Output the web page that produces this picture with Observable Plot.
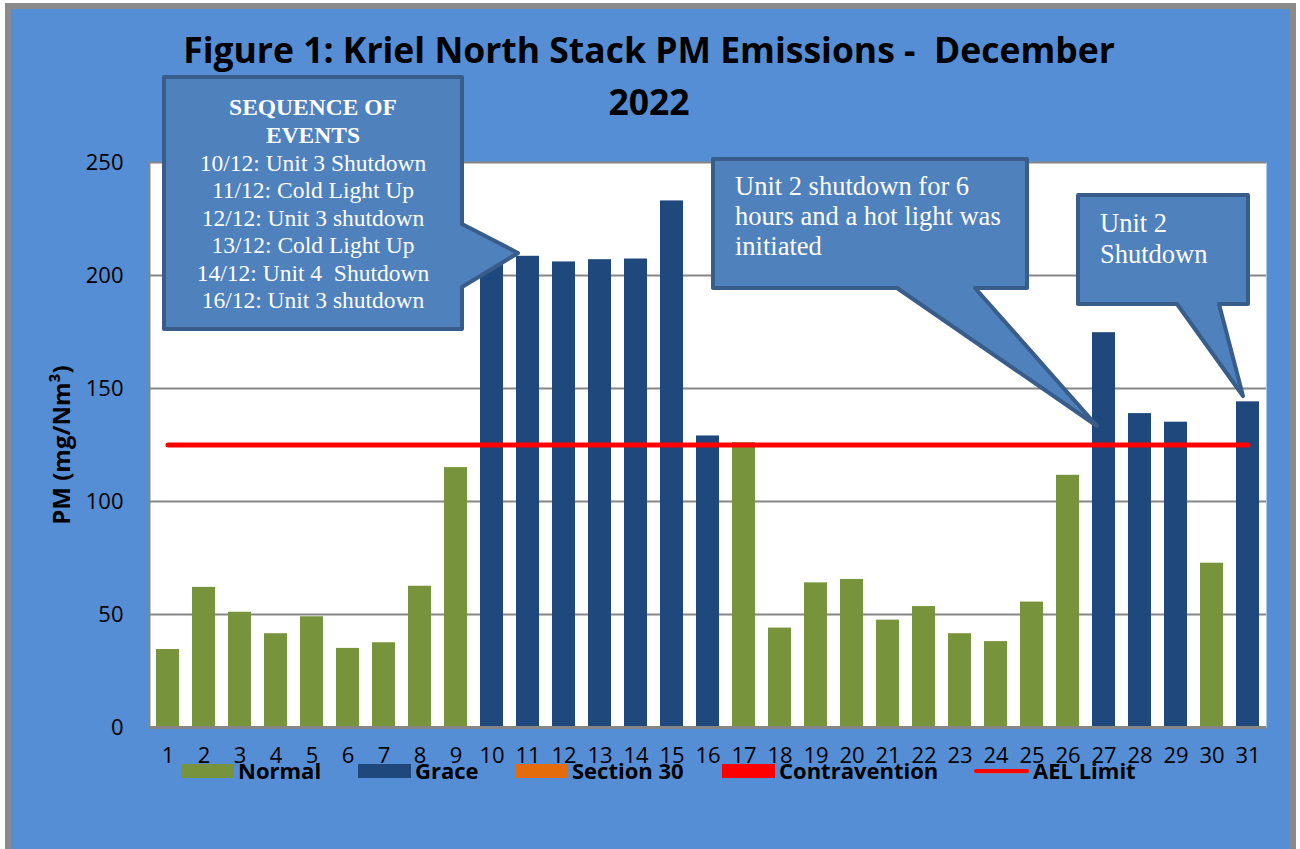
<!DOCTYPE html>
<html>
<head>
<meta charset="utf-8">
<script src="https://cdn.jsdelivr.net/npm/d3@7"></script>
<script src="https://cdn.jsdelivr.net/npm/@observablehq/plot@0.6"></script>
<style>
  html, body { margin: 0; padding: 0; background: #ffffff; }
  #wrap { position: relative; width: 1300px; height: 849px; overflow: hidden; }
  #frame { position: absolute; left: 5px; top: 3px; width: 1291px; height: 860px;
           box-sizing: border-box; border: 6px solid #8a8a8a; background: #558ed5; }
  #chart { position: absolute; left: 0; top: 0; }
  #overlay { position: absolute; left: 0; top: 0; pointer-events: none; }
</style>
</head>
<body>
<div id="wrap">
  <div id="frame"></div>
  <div id="chart"></div>
  <svg id="overlay" width="1300" height="849" xmlns="http://www.w3.org/2000/svg"></svg>
</div>
<script>
// ---------------- data ----------------
const days = [1,2,3,4,5,6,7,8,9,10,11,12,13,14,15,16,17,18,19,20,21,22,23,24,25,26,27,28,29,30,31];
const pmValues = [34.5, 62, 51, 41.5, 49, 35, 37.5, 62.5, 115, 207, 208.5, 206, 207, 207.3, 233, 129, 126,
                  44, 64, 65.5, 47.5, 53.5, 41.5, 38, 55.5, 111.6, 174.7, 138.9, 135.1, 72.7, 144.1];
const dayStatus = ["Normal","Normal","Normal","Normal","Normal","Normal","Normal","Normal","Normal",
                   "Grace","Grace","Grace","Grace","Grace","Grace","Grace",
                   "Normal","Normal","Normal","Normal","Normal","Normal","Normal","Normal","Normal","Normal",
                   "Grace","Grace","Grace","Normal","Grace"];
const aelLimit = 125;
const yTicks = [0, 50, 100, 150, 200, 250];
const statusNames = ["Normal", "Grace", "Section 30", "Contravention"];
const statusColors = ["#77933c", "#1f497d", "#e46c0a", "#ff0000"];
const aelName = "AEL Limit";
const titleLines = ["Figure 1: Kriel North Stack PM Emissions -  December", "2022"];
const yLabel = "PM (mg/Nm³)";
const callout1Title = ["SEQUENCE OF", "EVENTS"];
const callout1Lines = ["10/12: Unit 3 Shutdown", "11/12: Cold Light Up", "12/12: Unit 3 shutdown",
                       "13/12: Cold Light Up", "14/12: Unit 4  Shutdown", "16/12: Unit 3 shutdown"];
const callout2Lines = ["Unit 2 shutdown for 6", "hours and a hot light was", "initiated"];
const callout3Lines = ["Unit 2", "Shutdown"];

// ---------------- chart ----------------
const rows = days.map((d, i) => ({day: d, pm: pmValues[i], status: dayStatus[i]}));
const aelRows = [days[0], days[days.length - 1]].map(d => ({day: d, ael: aelLimit}));

const plot = Plot.plot({
  width: 1300,
  height: 849,
  marginLeft: 149,
  marginRight: 34,
  marginTop: 162,
  marginBottom: 122,
  style: {background: "transparent", fontFamily: "'Open Sans', sans-serif", fontSize: "22px", color: "#000", overflow: "visible"},
  x: {type: "band", domain: days, paddingInner: 0.37, paddingOuter: 0.185, label: null},
  y: {domain: [0, 250], label: null},
  color: {domain: statusNames, range: statusColors},
  marks: [
    Plot.frame({fill: "white", stroke: null}),
    Plot.gridY(yTicks, {stroke: "#868686", strokeOpacity: 1, strokeWidth: 2}),
    Plot.barY(rows, {x: "day", y: "pm", fill: "status"}),
    Plot.ruleY([0], {stroke: "#868686", strokeWidth: 3}),
    Plot.frame({anchor: "left", stroke: "#868686", strokeWidth: 2}),
    Plot.lineY(aelRows, {x: "day", y: "ael", stroke: "#ff0000", strokeWidth: 5, strokeLinecap: "round"}),
    Plot.axisX({tickSize: 0, tickPadding: 20, label: null, fill: "#000"}),
    Plot.axisY(yTicks, {tickSize: 0, tickPadding: 26, label: null, fill: "#000"})
  ]
});
document.getElementById("chart").appendChild(plot);

// ---------------- overlay: title, axis label, legend, callouts ----------------
const ov = d3.select("#overlay");
const titleLayout = {x: 649, y: [63, 115], size: 35.5};
ov.selectAll("text.title").data(titleLines).join("text")
  .attr("class", "title")
  .attr("x", titleLayout.x).attr("y", (d, i) => titleLayout.y[i])
  .attr("text-anchor", "middle")
  .attr("font-family", "'Open Sans', sans-serif").attr("font-weight", 700)
  .attr("font-size", titleLayout.size).attr("fill", "#000")
  .attr("xml:space", "preserve").style("white-space", "pre")
  .text(d => d);

ov.append("text")
  .attr("transform", "translate(60,445) rotate(-90)")
  .attr("text-anchor", "middle").attr("dominant-baseline", "central")
  .attr("font-family", "'Open Sans', sans-serif").attr("font-weight", 700)
  .attr("font-size", 24).attr("fill", "#000")
  .text(yLabel);

// legend
const legendSwatchX = [181, 358, 515, 722];
const legendY = 764, legendH = 14, legendW = 53;
statusNames.forEach((name, i) => {
  ov.append("rect").attr("x", legendSwatchX[i]).attr("y", legendY)
    .attr("width", legendW).attr("height", legendH).attr("fill", statusColors[i]);
  ov.append("text").attr("x", legendSwatchX[i] + legendW + 4).attr("y", 779)
    .attr("font-family", "'Open Sans', sans-serif").attr("font-weight", 700)
    .attr("font-size", 22).attr("fill", "#000").text(name);
});
ov.append("line").attr("x1", 976).attr("x2", 1027).attr("y1", 772).attr("y2", 772)
  .attr("stroke", "#7f7f9f").attr("stroke-width", 4).attr("stroke-linecap", "round");
ov.append("line").attr("x1", 976).attr("x2", 1027).attr("y1", 771).attr("y2", 771)
  .attr("stroke", "#ff0000").attr("stroke-width", 4).attr("stroke-linecap", "round");
ov.append("text").attr("x", 1033).attr("y", 779)
  .attr("font-family", "'Open Sans', sans-serif").attr("font-weight", 700)
  .attr("font-size", 22).attr("fill", "#000").text(aelName);

// callouts
const calloutFill = "#4f81bd", calloutStroke = "#385d8a";
const serif = "'Liberation Serif', 'Times New Roman', serif";
function bubble(path) {
  ov.append("path").attr("d", path).attr("fill", calloutFill).attr("stroke", calloutStroke)
    .attr("stroke-width", 4).attr("stroke-linejoin", "round");
}
bubble("M164,77 H462 V224 L518,253 L462,287 V329 H164 Z");
bubble("M713,159 H1027 V288 H975 L1097,426 L897,288 H713 Z");
bubble("M1078,195 H1248 V304 H1219 L1243,396 L1177,304 H1078 Z");

const c1TitleY = [115, 143];
callout1Title.forEach((t, i) => {
  ov.append("text").attr("x", 313).attr("y", c1TitleY[i]).attr("text-anchor", "middle")
    .attr("font-family", serif).attr("font-weight", 700).attr("font-size", 23.5)
    .attr("fill", "#fff").text(t);
});
callout1Lines.forEach((t, i) => {
  ov.append("text").attr("x", 313).attr("y", 170.5 + i * 27.5).attr("text-anchor", "middle")
    .attr("font-family", serif).attr("font-size", 23.5).attr("fill", "#fff")
    .attr("xml:space", "preserve").style("white-space", "pre").text(t);
});
callout2Lines.forEach((t, i) => {
  ov.append("text").attr("x", 735).attr("y", 195 + i * 30)
    .attr("font-family", serif).attr("font-size", 26.5).attr("fill", "#fff").text(t);
});
callout3Lines.forEach((t, i) => {
  ov.append("text").attr("x", 1100).attr("y", 232 + i * 31)
    .attr("font-family", serif).attr("font-size", 26.5).attr("fill", "#fff").text(t);
});
</script>
</body>
</html>
